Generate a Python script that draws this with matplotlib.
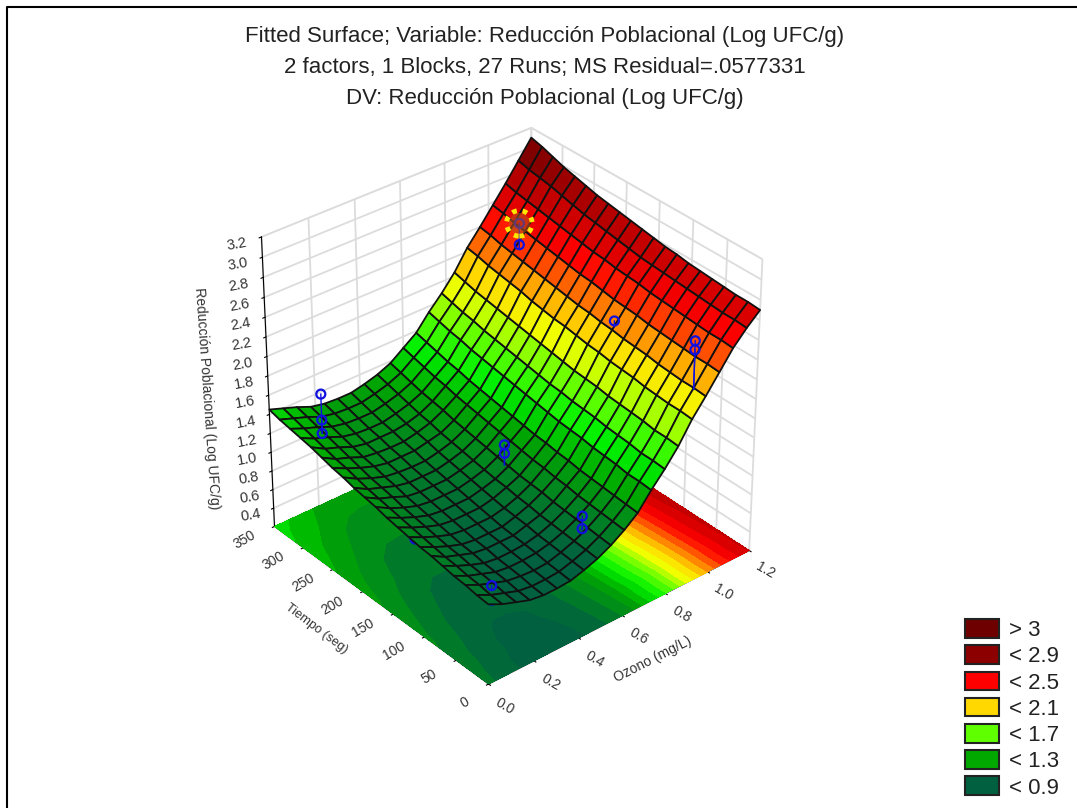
import numpy as np
import matplotlib
matplotlib.use("Agg")
import matplotlib.pyplot as plt
from matplotlib.colors import LinearSegmentedColormap, Normalize
from matplotlib.lines import Line2D
from matplotlib.patches import Patch

plt.rcParams['font.family'] = ['Liberation Sans', 'DejaVu Sans']

# values
ozono = [0.00, 0.06, 0.12, 0.18, 0.24, 0.30, 0.36, 0.42, 0.48, 0.54, 0.60,
         0.66, 0.72, 0.78, 0.84, 0.90, 0.96, 1.02, 1.08, 1.14, 1.20]
tiempo = [0, 17.5, 35, 52.5, 70, 87.5, 105, 122.5, 140, 157.5, 175,
          192.5, 210, 227.5, 245, 262.5, 280, 297.5, 315, 332.5, 350]
reduccion = [
    [1.03, .96, .91, .86, .84, .84, .85, .89, .94, 1.01, 1.10, 1.21, 1.38, 1.53, 1.70, 1.91, 2.08, 2.26, 2.44, 2.58, 2.70],
    [1.04, .97, .92, .87, .85, .85, .86, .90, .95, 1.02, 1.11, 1.22, 1.39, 1.54, 1.71, 1.92, 2.09, 2.27, 2.45, 2.59, 2.71],
    [1.06, .99, .94, .89, .87, .86, .87, .91, .96, 1.03, 1.12, 1.23, 1.39, 1.54, 1.71, 1.92, 2.09, 2.27, 2.45, 2.59, 2.71],
    [1.07, 1.00, .95, .90, .88, .88, .89, .92, .97, 1.04, 1.13, 1.24, 1.41, 1.56, 1.73, 1.93, 2.10, 2.28, 2.46, 2.60, 2.72],
    [1.09, 1.02, .96, .91, .89, .89, .90, .93, .98, 1.05, 1.14, 1.25, 1.42, 1.57, 1.74, 1.94, 2.11, 2.29, 2.47, 2.61, 2.73],
    [1.11, 1.03, .98, .93, .91, .91, .91, .95, .99, 1.06, 1.16, 1.26, 1.43, 1.58, 1.75, 1.96, 2.13, 2.30, 2.48, 2.62, 2.74],
    [1.12, 1.05, .99, .94, .92, .92, .92, .96, 1.01, 1.08, 1.17, 1.28, 1.45, 1.60, 1.76, 1.97, 2.14, 2.31, 2.49, 2.63, 2.75],
    [1.14, 1.07, 1.01, .96, .94, .94, .94, .97, 1.02, 1.09, 1.19, 1.29, 1.46, 1.61, 1.78, 1.98, 2.15, 2.33, 2.50, 2.64, 2.77],
    [1.16, 1.09, 1.03, .98, .96, .96, .96, .99, 1.04, 1.10, 1.20, 1.31, 1.47, 1.62, 1.79, 2.00, 2.17, 2.34, 2.52, 2.65, 2.78],
    [1.18, 1.11, 1.05, 1.00, .98, .98, .98, 1.01, 1.05, 1.12, 1.22, 1.32, 1.49, 1.64, 1.80, 2.01, 2.18, 2.35, 2.53, 2.66, 2.80],
    [1.21, 1.13, 1.07, 1.02, 1.00, 1.00, 1.00, 1.03, 1.07, 1.14, 1.24, 1.34, 1.51, 1.65, 1.82, 2.03, 2.20, 2.37, 2.54, 2.68, 2.82],
    [1.23, 1.15, 1.10, 1.04, 1.02, 1.02, 1.02, 1.05, 1.09, 1.16, 1.26, 1.36, 1.53, 1.67, 1.84, 2.05, 2.21, 2.39, 2.56, 2.70, 2.84],
    [1.25, 1.17, 1.12, 1.07, 1.04, 1.04, 1.04, 1.07, 1.11, 1.18, 1.28, 1.38, 1.55, 1.69, 1.86, 2.06, 2.23, 2.40, 2.57, 2.72, 2.86],
    [1.28, 1.20, 1.14, 1.09, 1.07, 1.06, 1.06, 1.09, 1.13, 1.20, 1.30, 1.40, 1.57, 1.71, 1.88, 2.08, 2.25, 2.42, 2.59, 2.74, 2.88],
    [1.30, 1.23, 1.17, 1.12, 1.09, 1.09, 1.09, 1.12, 1.15, 1.22, 1.32, 1.42, 1.59, 1.73, 1.90, 2.10, 2.27, 2.44, 2.61, 2.76, 2.90],
    [1.33, 1.25, 1.20, 1.14, 1.12, 1.11, 1.11, 1.14, 1.18, 1.25, 1.34, 1.44, 1.61, 1.75, 1.92, 2.13, 2.29, 2.46, 2.63, 2.79, 2.93],
    [1.36, 1.28, 1.23, 1.17, 1.14, 1.14, 1.14, 1.16, 1.20, 1.27, 1.37, 1.47, 1.63, 1.77, 1.94, 2.15, 2.31, 2.48, 2.65, 2.82, 2.96],
    [1.38, 1.31, 1.26, 1.20, 1.17, 1.16, 1.16, 1.19, 1.23, 1.29, 1.39, 1.49, 1.66, 1.80, 1.96, 2.17, 2.33, 2.50, 2.67, 2.85, 2.99],
    [1.40, 1.34, 1.29, 1.23, 1.20, 1.19, 1.19, 1.22, 1.26, 1.32, 1.42, 1.52, 1.68, 1.82, 1.98, 2.19, 2.35, 2.52, 2.69, 2.87, 3.03],
    [1.42, 1.37, 1.32, 1.26, 1.23, 1.22, 1.22, 1.25, 1.29, 1.35, 1.45, 1.55, 1.71, 1.85, 2.01, 2.22, 2.38, 2.55, 2.71, 2.89, 3.07],
    [1.45, 1.40, 1.35, 1.29, 1.26, 1.25, 1.25, 1.28, 1.32, 1.38, 1.48, 1.58, 1.74, 1.88, 2.04, 2.24, 2.40, 2.57, 2.74, 2.92, 3.10],
]

# observed runs and where each one's stem ends
run_ozono = [0.1, 0.1, 0.1, 0.5, 0.5, 0.5, 0.5, 0.1, 0.1, 1.0, 1.0, 1.0, 1.0, 1.0, 0.1]
run_tiempo = [300, 300, 300, 150, 150, 30, 30, 30, 30, 30, 30, 150, 300, 300, 150]
run_valor = [1.72, 1.45, 1.31, 1.42, 1.33, 1.22, 1.09, 0.96, 0.81, 2.47, 2.38, 2.18, 2.59, 2.37, 0.88]
run_fit = [1.31, 1.31, 1.31, 1.21, 1.21, 1.08, 1.08, 0.92, 0.92, 1.98, 1.98, 2.12, 2.33, 2.33, 1.06]
marcado = (1.0, 300, 2.59)

niveles = [0.9, 1.3, 1.5, 1.7, 1.95, 2.1, 2.3, 2.5, 2.9, 3.0, 3.1]
colores = ["#006040", "#00a800", "#00f000", "#60ff00", "#f0ff00", "#ffd800",
           "#ff7000", "#ff0000", "#a00000", "#800000", "#6e0000"]

titulos = ["Fitted Surface; Variable: Reducción Poblacional (Log UFC/g)",
           "2 factors, 1 Blocks, 27 Runs; MS Residual=.0577331",
           "DV: Reducción Poblacional (Log UFC/g)"]
leyenda_txt = ["> 3", "< 2.9", "< 2.5", "< 2.1", "< 1.7", "< 1.3", "< 0.9"]
leyenda_col = ["#6e0000", "#8c0000", "#ff0000", "#ffd800", "#60ff00", "#00a800", "#006040"]

norm = Normalize(niveles[0], niveles[-1])
cmap = LinearSegmentedColormap.from_list("st", [(norm(n), c) for n, c in zip(niveles, colores)])

X, Y = np.meshgrid(ozono, tiempo)
Z = np.array(reduccion)
celda = (Z[:-1, :-1] + Z[1:, :-1] + Z[:-1, 1:] + Z[1:, 1:]) / 4

fig = plt.figure(figsize=(10.77, 8.08), dpi=100)
ax = fig.add_axes([0.004, -0.005, 0.92, 1.0], projection='3d', computed_zorder=False)
ax.set_proj_type('persp', focal_length=0.8)
ax.view_init(elev=33, azim=-130)
ax.set_box_aspect((1, 1, 1.0), zoom=0.72)
ax.set_xlim(0, 1.2)
ax.set_ylim(0, 350)
ax.set_zlim(0.2, 3.2)

ax.contourf(X, Y, Z, levels=np.arange(0.7, 3.3, 0.1), zdir='z', offset=0.2,
            cmap=cmap, norm=norm, zorder=1)
ax.plot_surface(X, Y, Z, rstride=1, cstride=1, facecolors=cmap(norm(celda)),
                edgecolor='#111111', linewidth=1.3, shade=False, zorder=2)

# runs under the surface stay behind it, the others go in front
for o, t, v, f in zip(run_ozono, run_tiempo, run_valor, run_fit):
    z = 4 if v >= f else 1.5
    ax.plot([o, o], [t, t], [v, f], color='#1010e0', lw=1, zorder=z)
    ax.scatter([o], [t], [v], s=42, facecolors='none', edgecolors='#1010e0',
               linewidths=1.6, depthshade=False, zorder=z)
ax.scatter([marcado[0]], [marcado[1]], [marcado[2]], s=230, color='#b05a20', alpha=0.55,
           linewidths=0, depthshade=False, zorder=4.5)
ax.scatter([marcado[0]], [marcado[1]], [marcado[2]], s=340, facecolors='none', edgecolors='#ffe800',
           linewidths=3.5, linestyle=(0, (1, 1.2)), depthshade=False, zorder=5)

ax.set_xticks([0.0, 0.2, 0.4, 0.6, 0.8, 1.0, 1.2])
ax.set_yticks([0, 50, 100, 150, 200, 250, 300, 350])
ax.set_zticks(np.arange(0.4, 3.3, 0.2))
ax.set_xticklabels(["0.0", "0.2", "0.4", "0.6", "0.8", "1.0", "1.2"])
ax.set_zticklabels(["%.1f" % z for z in np.arange(0.4, 3.3, 0.2)])
ax.tick_params(axis='x', labelsize=10, labelcolor='#333333', labelrotation=-30, pad=14)
ax.tick_params(axis='y', labelsize=10, labelcolor='#333333', labelrotation=30, pad=11)
ax.tick_params(axis='z', labelsize=10.5, labelcolor='#333333', labelrotation=10, pad=7)
for lab in ax.get_xticklabels():
    lab.set_va('bottom')
for lab in ax.get_yticklabels():
    lab.set_ha('right')
    lab.set_va('bottom')

for axis in (ax.xaxis, ax.yaxis, ax.zaxis):
    axis.set_pane_color((1, 1, 1, 1))
    axis.pane.set_edgecolor('#dddddd')
    axis._axinfo['grid'].update(color='#dcdcdc', linewidth=1.3)
    axis._axinfo['tick'].update(inward_factor=0.1, outward_factor=0.0)

# axis titles
fig.text(653 / 1077, 1 - 659 / 808, "Ozono (mg/L)", rotation=27, fontsize=10, color='#333333', ha='center', va='center')
fig.text(316 / 1077, 1 - 629 / 808, "Tiempo (seg)", rotation=-37, fontsize=9.2, color='#333333', ha='center', va='center')
fig.text(207 / 1077, 1 - 398 / 808, "Reducción Poblacional (Log UFC/g)", rotation=-86, fontsize=10, color='#333333', ha='center', va='center')

for i, txt in enumerate(titulos):
    fig.text(0.506, 0.9545 - i * 0.0384, txt, ha='center', va='center', fontsize=16, color='#222222')

handles = [Patch(facecolor=c, edgecolor='#222222', linewidth=1.5) for c in leyenda_col]
fig.legend(handles, leyenda_txt, loc='lower right', bbox_to_anchor=(1.002, -0.013), frameon=False,
           fontsize=16, handlelength=1.55, handleheight=0.92, labelspacing=0.19,
           handletextpad=0.45, labelcolor='#222222')

# frame of the screenshot
fig.add_artist(Line2D([0.0065, 0.0065, 1], [0, 0.9915, 0.9915], color='k', lw=1.5))

fig.savefig("out.png", dpi=100)
